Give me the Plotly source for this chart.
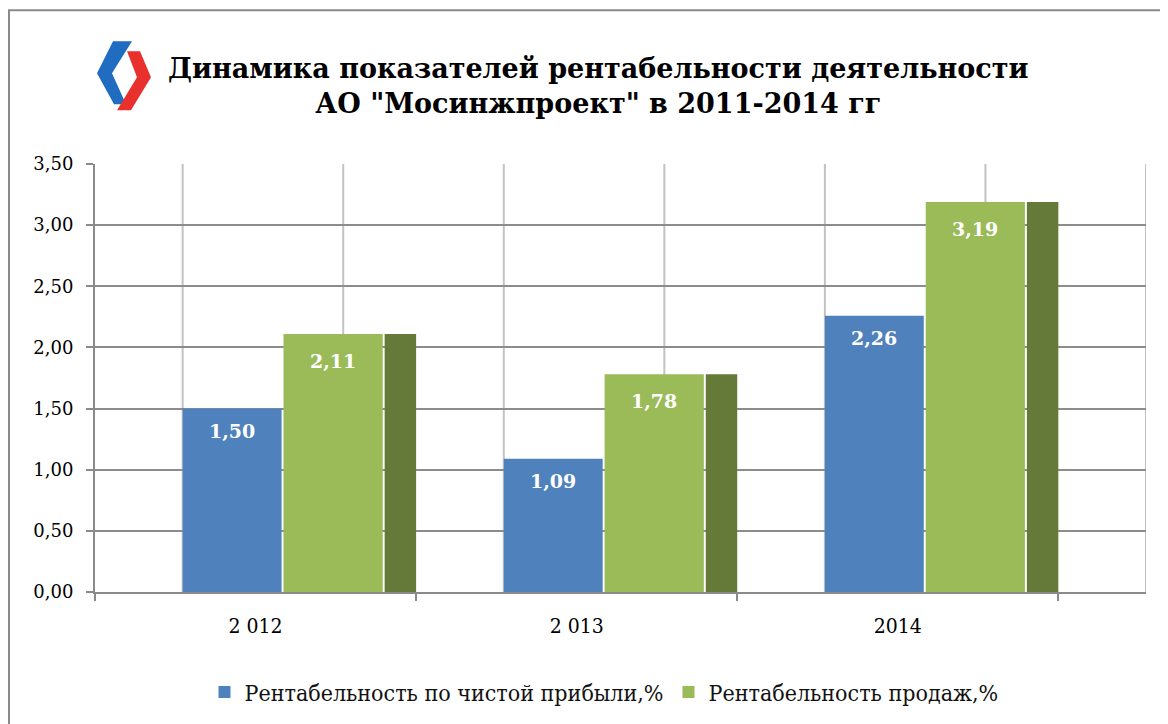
import plotly.graph_objects as go

# ---- data ----
years = ["2 012", "2 013", "2014"]
net_profit = [1.50, 1.09, 2.26]          # Рентабельность по чистой прибыли,%
sales = [2.11, 1.78, 3.19]               # Рентабельность продаж,%
series_names = ["Рентабельность по чистой прибыли,%", "Рентабельность продаж,%"]
y_ticks = [0, 0.5, 1.0, 1.5, 2.0, 2.5, 3.0, 3.5]
title_lines = ["Динамика показателей рентабельности деятельности",
               "АО \"Мосинжпроект\" в 2011-2014 гг"]

# ---- layout geometry (screen pixels; page body has an 8px margin) ----
OFF = 8
W, H = 1168 - OFF, 724 - OFF
PL, PR, PT, PB = 95, 1146, 164, 593   # plot area in screen pixels

def px(x):
    return (x - PL) / (PR - PL)

def py(y):
    return (PB - y) / (PB - PT)

BLUE = "#4f81bd"
GREEN = "#9bbb59"
DARK = "#657a38"
SERIF = "DejaVu Serif"
SERIF_C = "DejaVu Serif Condensed, DejaVu Serif"

# bar geometry in category units
blue_off, blue_w = -0.227, 0.308
green_off, green_w = 0.087, 0.309
dark_off, dark_w = 0.402, 0.098
depth = 0.273   # back-wall shift

fig = go.Figure()
fig.add_trace(go.Bar(x=years, y=net_profit, name=series_names[0],
                     offset=blue_off, width=blue_w,
                     marker=dict(color=BLUE, line=dict(width=0))))
fig.add_trace(go.Bar(x=years, y=sales, name=series_names[1],
                     offset=green_off, width=green_w,
                     marker=dict(color=GREEN, line=dict(width=0))))
fig.add_trace(go.Bar(x=years, y=sales, name=series_names[1], showlegend=False,
                     offset=dark_off, width=dark_w, hoverinfo="skip",
                     marker=dict(color=DARK, line=dict(width=0))))

annotations = []
for i, v in enumerate(net_profit):
    annotations.append(dict(x=i + blue_off + blue_w / 2, y=v, xref="x", yref="y",
                            text="<b>" + f"{v:.2f}".replace(".", ",") + "</b>",
                            showarrow=False, yshift=-22,
                            font=dict(family=SERIF, size=19, color="white")))
for i, v in enumerate(sales):
    annotations.append(dict(x=i + green_off + green_w / 2, y=v, xref="x", yref="y",
                            text="<b>" + f"{v:.2f}".replace(".", ",") + "</b>",
                            showarrow=False, yshift=-27,
                            font=dict(family=SERIF, size=19, color="white")))

annotations.append(dict(xref="paper", yref="paper", x=px(598), y=py(86),
                        xanchor="center", yanchor="middle", showarrow=False,
                        text="<b>" + "<br>".join(title_lines) + "</b>",
                        font=dict(family=SERIF, size=27, color="black")))

shapes = []
shapes.append(dict(type="rect", xref="paper", yref="paper",
                   x0=px(9), x1=px(1180), y0=py(740), y1=py(10),
                   line=dict(color="#8a8a8a", width=2), layer="below"))
n = len(years)
xs = []
for i in range(n):
    xs += [i - 0.5 + depth, i + depth]
xs.append(n - 0.5 + depth)
for xv in xs:
    shapes.append(dict(type="line", xref="x", yref="y", x0=xv, x1=xv,
                       y0=0, y1=y_ticks[-1], line=dict(color="#c3c3c3", width=2),
                       layer="below"))

def path(pts):
    return "M " + " L ".join(f"{px(a)},{py(b)}" for a, b in pts) + " Z"

shapes.append(dict(type="path", xref="paper", yref="paper",
                   path=path([(113, 41), (132, 41), (112, 73), (126, 104), (114, 104), (97, 73)]),
                   fillcolor="#1f6cc0", line=dict(width=0)))
shapes.append(dict(type="path", xref="paper", yref="paper",
                   path=path([(127, 51), (140, 51), (151, 77), (131, 110), (117, 110), (137, 77)]),
                   fillcolor="#e8302c", line=dict(width=0)))

fig.update_layout(
    width=W, height=H,
    margin=dict(l=PL - OFF, r=W - (PR - OFF), t=PT - OFF, b=H - (PB - OFF), pad=0),
    paper_bgcolor="white", plot_bgcolor="white",
    separators=", ",
    barmode="overlay",
    showlegend=True,
    legend=dict(orientation="h", x=px(604), y=py(692), xanchor="center", yanchor="middle",
                font=dict(family=SERIF_C, size=23, color="#111111"),
                itemwidth=30, tracegroupgap=0),
    annotations=annotations,
    shapes=shapes,
)
fig.update_xaxes(type="category", range=[-0.5, n - 0.5 + depth],
                 showline=True, linecolor="#8a8a8a", linewidth=2,
                 ticks="outside", tickson="boundaries", ticklen=7, tickcolor="#8a8a8a",
                 tickwidth=2, showgrid=False, ticklabelstandoff=14,
                 tickfont=dict(family=SERIF_C, size=21, color="black"))
fig.update_yaxes(range=[0, y_ticks[-1]], tickvals=y_ticks, tickformat=".2f",
                 showline=True, linecolor="#8a8a8a", linewidth=2,
                 ticks="outside", ticklen=7, tickcolor="#8a8a8a", tickwidth=2,
                 showgrid=True, gridcolor="#8c8c8c", gridwidth=2,
                 zeroline=False, ticklabelstandoff=9,
                 tickfont=dict(family=SERIF, size=18, color="black"))

fig.write_html("out.html")
